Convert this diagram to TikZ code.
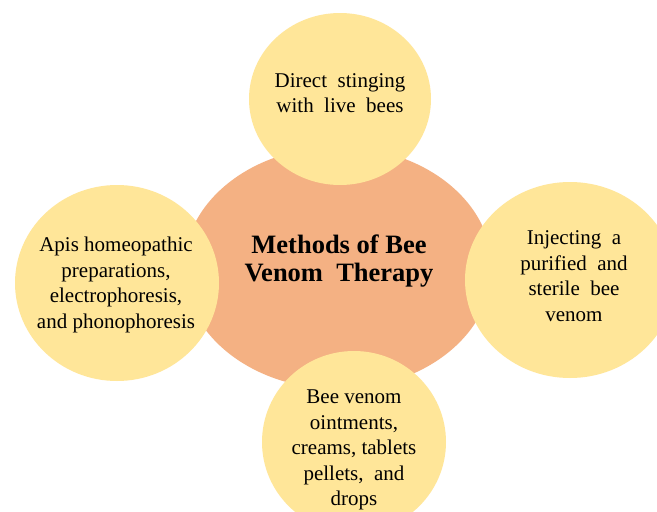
\documentclass[tikz,border=0pt]{standalone}
\usepackage{fontspec}
\setmainfont{Liberation Serif}
\usetikzlibrary{shapes.geometric}
\definecolor{petal}{HTML}{FFE699}
\definecolor{core}{HTML}{F4B183}
\begin{document}
\begin{tikzpicture}[x=1pt,y=-1pt,
  blob/.style={ellipse, draw=none, inner sep=0pt, outer sep=0pt},
  petalshape/.style={blob, fill=petal},
  coreshape/.style={blob, fill=core},
  petaltext/.style={align=center, inner sep=0pt, font=\fontsize{21}{25.5}\selectfont},
  coretext/.style={align=center, inner sep=0pt, font=\fontsize{26.5}{28.5}\selectfont\bfseries}]
\useasboundingbox[fill=white] (0,0) rectangle (657,512);
\begin{scope}
\clip (0,0) rectangle (657,512);
\node[coreshape, minimum width=308pt, minimum height=242pt] (core) at (338,268) {};
\node[petalshape, minimum width=182pt, minimum height=172pt] (top) at (340,99) {};
\node[petalshape, minimum width=204pt, minimum height=196pt] (left) at (117,283) {};
\node[petalshape, minimum width=210pt, minimum height=196pt] (right) at (570,280) {};
\node[petalshape, minimum width=184pt, minimum height=182pt] (bottom) at (354,442) {};
\end{scope}
\node[coretext] (tcore) at (339,261) {Methods of Bee\\Venom\ \ Therapy};
\node[petaltext] (ttop) at (340,93) {Direct\ \ stinging\\with\ \ live\ \ bees};
\node[petaltext] (tleft) at (116,285) {Apis homeopathic\\preparations,\\electrophoresis,\\and phonophoresis};
\node[petaltext] (tright) at (574,276) {Injecting\ \ a\\purified\ \ and\\sterile\ \ bee\\venom};
\node[petaltext] (tbottom) at (354,450) {Bee venom\\ointments,\\creams, tablets\\pellets,\ \ and\\drops};
\end{tikzpicture}
\end{document}
